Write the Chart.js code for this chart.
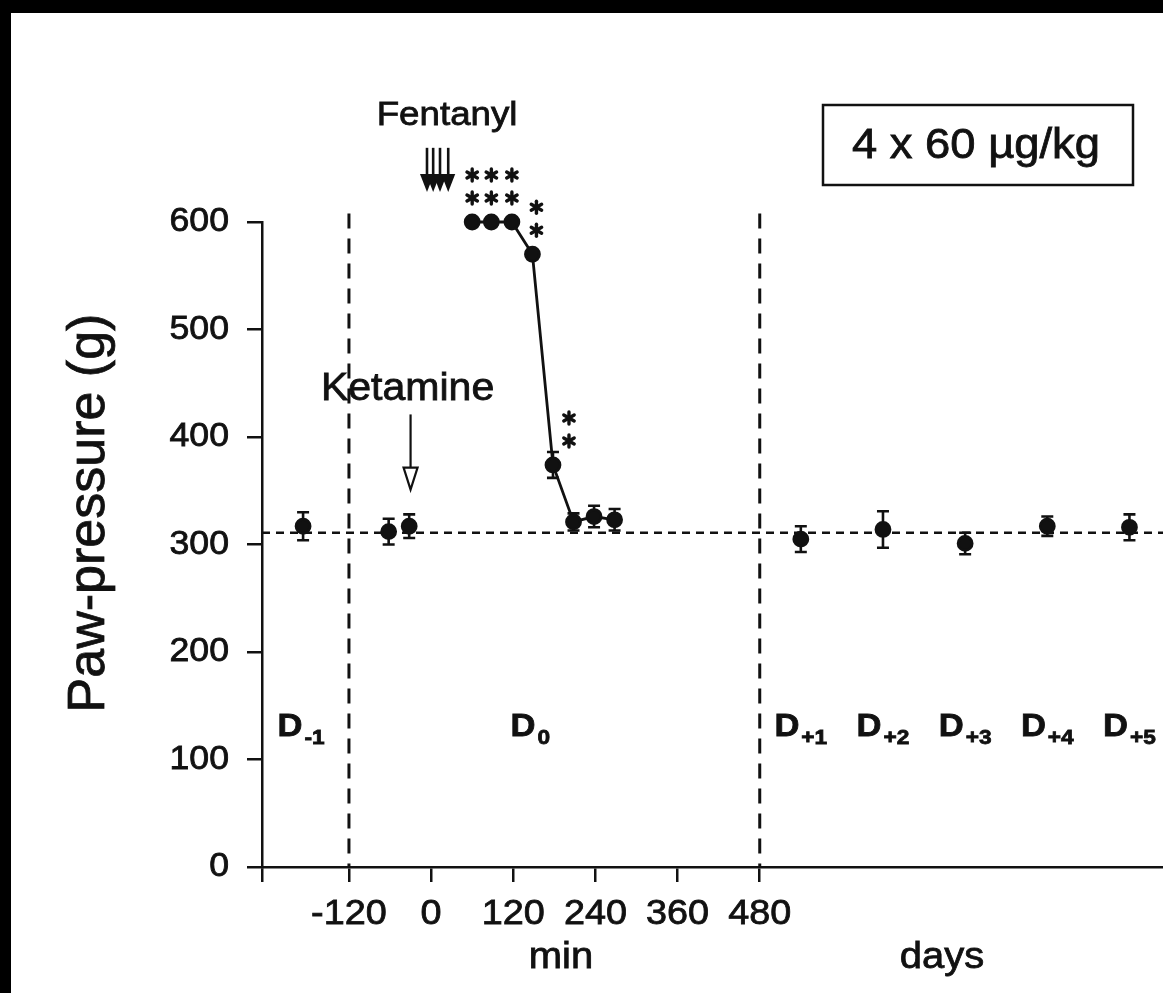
<!DOCTYPE html>
<html lang="en">
<head>
  <meta charset="UTF-8">
  <title>Paw-pressure</title>
  <script src="https://cdn.jsdelivr.net/npm/chart.js"></script>
  <style>
    html, body {
      margin: 0;
      padding: 0;
      overflow: hidden;
      background: #fff;
    }
    canvas {
      display: block;
    }
  </style>
</head>
<body>
  <canvas id="pawChart" width="1163" height="993"></canvas>

  <script>
    // day -1 and pre-ketamine readings (min, g, +/- SEM)
    const preTimes = [-187, -62, -32];
    const preValues = [317, 312, 317];
    const preErrors = [13, 12, 11];

    // day 0 after the fentanyl injections
    const d0Times = [60, 88, 118, 148, 178, 208, 238, 268];
    const d0Values = [600, 600, 600, 570, 374, 321, 326, 323];
    const d0Errors = [0, 0, 0, 0, 12, 8, 10, 10];
    const d0Stars = [2, 2, 2, 2, 2, 0, 0, 0];

    // following days, placed on the same axis past 480 min
    const dayTimes = [540, 660, 780, 900, 1020];
    const dayValues = [305, 314, 301, 317, 316];
    const dayErrors = [12, 17, 10, 9, 12];

    const xTicks = [-120, 0, 120, 240, 360, 480];
    const yTicks = [0, 100, 200, 300, 400, 500, 600];

    const sessionSubs = ['-1', '0', '+1', '+2', '+3', '+4', '+5'];
    const sessionCenters = [-190, 145, 540, 660, 780, 900, 1020];

    const baselineValue = 311;
    const dividerTimes = [-120, 480];
    const fentanylTimes = [-6, 3, 13, 25];
    const ketamineTime = -30;

    const X_MIN = -247;
    const X_MAX = 1069;
    const INK = '#111';
    const FONT = '"Liberation Sans", Arial, Helvetica, sans-serif';
    const SX = 1.08;

    function toPoints(xs, ys) {
      return xs.map((x, i) => ({ x: x, y: ys[i] }));
    }

    function drawText(ctx, text, x, y, size, align, bold) {
      ctx.save();
      ctx.font = (bold ? 'bold ' : '') + size + 'px ' + FONT;
      ctx.fillStyle = INK;
      ctx.strokeStyle = INK;
      ctx.lineWidth = 0.8;
      ctx.textAlign = align;
      ctx.textBaseline = 'middle';
      ctx.translate(x, y);
      ctx.scale(SX, 1);
      ctx.fillText(text, 0, 0);
      ctx.strokeText(text, 0, 0);
      ctx.restore();
    }

    function drawStar(ctx, x, y, r) {
      ctx.save();
      ctx.strokeStyle = INK;
      ctx.lineWidth = 3.4;
      ctx.lineCap = 'round';
      for (let k = 0; k < 3; k++) {
        const a = Math.PI / 2 + k * Math.PI / 3;
        ctx.beginPath();
        ctx.moveTo(x - r * Math.cos(a), y - r * Math.sin(a));
        ctx.lineTo(x + r * Math.cos(a), y + r * Math.sin(a));
        ctx.stroke();
      }
      ctx.restore();
    }

    function drawErrors(ctx, xs, ys, errs, sx, sy) {
      ctx.save();
      ctx.strokeStyle = INK;
      ctx.lineWidth = 2.6;
      xs.forEach((t, i) => {
        if (!errs[i]) return;
        const x = sx.getPixelForValue(t);
        const top = sy.getPixelForValue(ys[i] + errs[i]);
        const bot = sy.getPixelForValue(ys[i] - errs[i]);
        ctx.beginPath();
        ctx.moveTo(x, top); ctx.lineTo(x, bot);
        ctx.moveTo(x - 6, top); ctx.lineTo(x + 6, top);
        ctx.moveTo(x - 6, bot); ctx.lineTo(x + 6, bot);
        ctx.stroke();
      });
      ctx.restore();
    }

    const backdrop = {
      id: 'backdrop',
      beforeDraw(chart) {
        const ctx = chart.ctx;
        ctx.save();
        ctx.fillStyle = '#fff';
        ctx.fillRect(0, 0, chart.width, chart.height);
        ctx.restore();
      },
      afterDraw(chart) {
        const ctx = chart.ctx;
        ctx.save();
        ctx.fillStyle = '#000';
        ctx.fillRect(0, 0, chart.width, 13);
        ctx.fillRect(0, 0, 11, chart.height);
        ctx.restore();
      }
    };

    const guides = {
      id: 'guides',
      beforeDatasetsDraw(chart) {
        const ctx = chart.ctx;
        const { left, right, bottom } = chart.chartArea;
        const sx = chart.scales.x, sy = chart.scales.y;

        // baseline
        ctx.save();
        ctx.strokeStyle = INK;
        ctx.lineWidth = 2.5;
        ctx.setLineDash([8, 6]);
        const yb = sy.getPixelForValue(baselineValue);
        ctx.beginPath();
        ctx.moveTo(left, yb);
        ctx.lineTo(right, yb);
        ctx.stroke();

        // day dividers
        ctx.lineWidth = 3;
        ctx.setLineDash([15, 10]);
        dividerTimes.forEach(t => {
          const x = sx.getPixelForValue(t);
          ctx.beginPath();
          ctx.moveTo(x, sy.getPixelForValue(608));
          ctx.lineTo(x, bottom);
          ctx.stroke();
        });
        ctx.restore();

        drawErrors(ctx, preTimes, preValues, preErrors, sx, sy);
        drawErrors(ctx, d0Times, d0Values, d0Errors, sx, sy);
        drawErrors(ctx, dayTimes, dayValues, dayErrors, sx, sy);
      },
      afterDraw(chart) {
        const ctx = chart.ctx;
        const sx = chart.scales.x, sy = chart.scales.y;

        // tick labels
        yTicks.forEach(v => drawText(ctx, String(v), 229, sy.getPixelForValue(v), 33, 'right'));
        xTicks.forEach(v => drawText(ctx, String(v), sx.getPixelForValue(v), 914, 35, 'center'));

        drawText(ctx, 'min', 561, 958, 37, 'center');
        drawText(ctx, 'days', 942, 958, 37, 'center');

        // y title
        ctx.save();
        ctx.translate(90, 513);
        ctx.rotate(-Math.PI / 2);
        ctx.font = '52px ' + FONT;
        ctx.fillStyle = INK;
        ctx.strokeStyle = INK;
        ctx.lineWidth = 0.8;
        ctx.textAlign = 'center';
        ctx.textBaseline = 'middle';
        ctx.fillText('Paw-pressure (g)', 0, 0);
        ctx.strokeText('Paw-pressure (g)', 0, 0);
        ctx.restore();

        // significance stars, nudged right off the falling line
        d0Times.forEach((t, i) => {
          const x0 = sx.getPixelForValue(t);
          const y0 = sy.getPixelForValue(d0Values[i]);
          const drop = i > 0 ? d0Values[i - 1] - d0Values[i] : 0;
          const x = x0 + (drop > 100 ? 16 : (drop > 0 ? 4 : 0));
          for (let k = 0; k < d0Stars[i]; k++) {
            drawStar(ctx, x, y0 - 24 - k * 23, 6);
          }
        });

        // fentanyl arrows
        ctx.save();
        ctx.strokeStyle = INK;
        ctx.fillStyle = INK;
        ctx.lineWidth = 2.6;
        const fTop = sy.getPixelForValue(669);
        const fBot = sy.getPixelForValue(628);
        fentanylTimes.forEach(t => {
          const x = sx.getPixelForValue(t);
          ctx.beginPath();
          ctx.moveTo(x, fTop);
          ctx.lineTo(x, fBot - 8);
          ctx.stroke();
          ctx.beginPath();
          ctx.moveTo(x - 7, fBot - 18);
          ctx.lineTo(x + 7, fBot - 18);
          ctx.lineTo(x, fBot);
          ctx.closePath();
          ctx.fill();
        });
        ctx.restore();
        const fMid = fentanylTimes.reduce((a, b) => a + b, 0) / fentanylTimes.length;
        drawText(ctx, 'Fentanyl', sx.getPixelForValue(fMid) + 10, 116, 34, 'center');

        // ketamine arrow
        const kx = sx.getPixelForValue(ketamineTime);
        const kTop = sy.getPixelForValue(421);
        const kBot = sy.getPixelForValue(351);
        ctx.save();
        ctx.strokeStyle = INK;
        ctx.lineWidth = 2.2;
        ctx.beginPath();
        ctx.moveTo(kx, kTop);
        ctx.lineTo(kx, kBot - 22);
        ctx.stroke();
        ctx.beginPath();
        ctx.moveTo(kx - 7, kBot - 22);
        ctx.lineTo(kx + 7, kBot - 22);
        ctx.lineTo(kx, kBot);
        ctx.closePath();
        ctx.fillStyle = '#fff';
        ctx.fill();
        ctx.stroke();
        ctx.restore();
        drawText(ctx, 'Ketamine', kx - 3, 390, 38, 'center');

        // session labels, D with subscript
        const ly = sy.getPixelForValue(130);
        sessionCenters.forEach((t, i) => {
          ctx.save();
          ctx.font = 'bold 32px ' + FONT;
          const wD = ctx.measureText('D').width * SX;
          ctx.font = 'bold 21px ' + FONT;
          const wS = ctx.measureText(sessionSubs[i]).width * SX;
          ctx.restore();
          const x = sx.getPixelForValue(t) - (wD + 2 + wS) / 2;
          drawText(ctx, 'D', x, ly, 32, 'left', true);
          drawText(ctx, sessionSubs[i], x + wD + 2, ly + 11, 21, 'left', true);
        });

        // dose box
        ctx.save();
        ctx.strokeStyle = INK;
        ctx.lineWidth = 2.5;
        ctx.strokeRect(823, 105, 310, 80);
        ctx.restore();
        drawText(ctx, '4 x 60 \u00B5g/kg', 976, 146, 42, 'center');
      }
    };

    const axisGrid = {
      display: true,
      drawOnChartArea: false,
      drawTicks: true,
      tickLength: 15,
      color: INK,
      tickColor: INK,
      lineWidth: 2.5
    };

    const pointStyle = {
      showLine: false,
      pointRadius: 7,
      pointBackgroundColor: INK,
      pointBorderColor: INK,
      borderColor: INK,
      borderWidth: 2.8,
      clip: false
    };

    const ctx = document.getElementById('pawChart').getContext('2d');
    const pawChart = new Chart(ctx, {
      type: 'scatter',
      data: {
        datasets: [
          Object.assign({ label: 'Day -1 / pre', data: toPoints(preTimes, preValues) }, pointStyle),
          Object.assign({}, pointStyle, { label: 'Day 0', data: toPoints(d0Times, d0Values), showLine: true, tension: 0 }),
          Object.assign({ label: 'Days +1..+5', data: toPoints(dayTimes, dayValues) }, pointStyle)
        ]
      },
      options: {
        responsive: false,
        animation: false,
        layout: {
          autoPadding: false,
          padding: { left: 247, top: 222, right: 0, bottom: 111 }
        },
        plugins: {
          legend: { display: false },
          tooltip: { enabled: false }
        },
        scales: {
          x: {
            type: 'linear',
            min: X_MIN,
            max: X_MAX,
            afterBuildTicks: scale => {
              scale.ticks = [X_MIN].concat(xTicks).map(v => ({ value: v }));
            },
            ticks: { display: false, autoSkip: false },
            grid: axisGrid,
            border: { display: true, color: INK, width: 2.5 }
          },
          y: {
            type: 'linear',
            min: 0,
            max: 600,
            afterBuildTicks: scale => {
              scale.ticks = yTicks.map(v => ({ value: v }));
            },
            ticks: { display: false, autoSkip: false },
            grid: axisGrid,
            border: { display: true, color: INK, width: 2.5 }
          }
        }
      },
      plugins: [backdrop, guides]
    });
  </script>
</body>
</html>
